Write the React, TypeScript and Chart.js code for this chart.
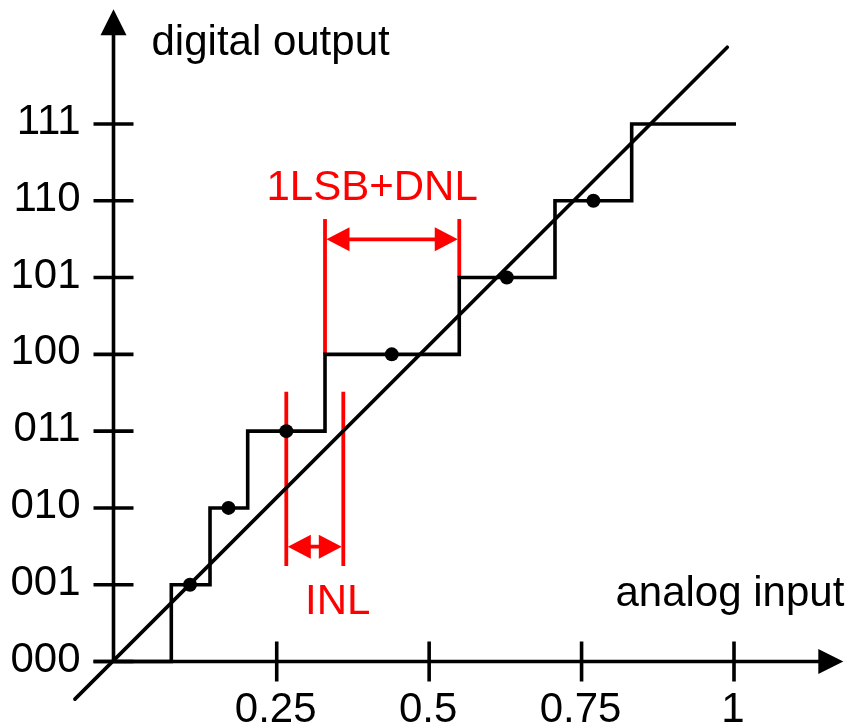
import React, { useEffect, useRef } from 'react';
import { Chart, registerables } from 'chart.js';

Chart.register(...registerables);

// ---- data ----
const codeValues = [0, 1, 2, 3, 4, 5, 6, 7];
const codeLabels = ['000', '001', '010', '011', '100', '101', '110', '111'];
const inputTicks = [0.25, 0.5, 0.75, 1];
const inputTickLabels = ['0.25', '0.5', '0.75', '1'];

// real (non-linear) transfer curve: input where each code begins
const stepInput = [-0.0177, 0.0771, 0.1406, 0.2024, 0.3292, 0.5494, 0.7064, 0.8322, 1.0033];
const stepCode = [0, 1, 2, 3, 4, 5, 6, 7, 7];

// code centres (dots)
const centreInput = [0.1078, 0.1709, 0.2657, 0.4387, 0.6274, 0.7694];
const centreCode = [1, 2, 3, 4, 5, 6];

// ideal straight line
const idealInput = [-0.081, 0.989];
const idealCode = [-0.49, 8.0];

// INL annotation
const inlInput = [0.2657, 0.3592];
const inlCodeRange = [1.244, 3.513];
const inlArrowCode = 1.495;

// DNL annotation
const dnlInput = [0.3292, 0.5494];
const dnlCodeBottom = [4, 5];
const dnlCodeTop = 5.762;
const dnlArrowCode = 5.498;

// axes
const xMin = -0.0177;
const xMax = 1.0;
const yMin = 0;
const yMax = 8;
const xAxisEnd = 1.1793;
const yAxisEnd = 8.493;

const FONT = '42px "Liberation Sans", Arial, sans-serif';
const RED = '#ff0000';
const LW = 3.6;

function arrowHead(ctx: CanvasRenderingContext2D, tx: number, ty: number, dx: number, dy: number, len: number, half: number) {
  const px = -dy;
  const py = dx;
  ctx.beginPath();
  ctx.moveTo(tx, ty);
  ctx.lineTo(tx - dx * len + px * half, ty - dy * len + py * half);
  ctx.lineTo(tx - dx * len - px * half, ty - dy * len - py * half);
  ctx.closePath();
  ctx.fill();
}

function doubleArrow(ctx: CanvasRenderingContext2D, x1: number, x2: number, y: number) {
  ctx.beginPath();
  ctx.moveTo(x1 + 10, y);
  ctx.lineTo(x2 - 10, y);
  ctx.stroke();
  arrowHead(ctx, x1 + 1.5, y, -1, 0, 23, 12);
  arrowHead(ctx, x2 - 1.5, y, 1, 0, 23, 12);
}

const overlay = {
  id: 'overlay',
  beforeDatasetsDraw(chart: any) {
    const ctx: CanvasRenderingContext2D = chart.ctx;
    const xs = chart.scales.x;
    const ys = chart.scales.y;
    const ox = xs.getPixelForValue(xMin);
    const oy = ys.getPixelForValue(0);
    ctx.save();
    ctx.strokeStyle = '#000';
    ctx.fillStyle = '#000';
    ctx.lineWidth = LW;
    ctx.lineCap = 'butt';
    // y axis
    const yTop = ys.getPixelForValue(yAxisEnd);
    ctx.beginPath();
    ctx.moveTo(ox, oy);
    ctx.lineTo(ox, yTop + 20);
    ctx.stroke();
    arrowHead(ctx, ox, yTop, 0, -1, 26, 13);
    // x axis
    const xRight = xs.getPixelForValue(xAxisEnd);
    ctx.beginPath();
    ctx.moveTo(ox - 20, oy);
    ctx.lineTo(xRight - 20, oy);
    ctx.stroke();
    arrowHead(ctx, xRight, oy, 1, 0, 25, 12.5);
    // y ticks
    codeValues.forEach((v) => {
      const y = ys.getPixelForValue(v);
      ctx.beginPath();
      ctx.moveTo(ox - 20, y);
      ctx.lineTo(ox + 20, y);
      ctx.stroke();
    });
    // x ticks
    inputTicks.forEach((v) => {
      const x = xs.getPixelForValue(v);
      ctx.beginPath();
      ctx.moveTo(x, oy - 20);
      ctx.lineTo(x, oy + 20);
      ctx.stroke();
    });

    // red annotations
    ctx.strokeStyle = RED;
    ctx.fillStyle = RED;
    ctx.lineWidth = 3.8;
    inlInput.forEach((v) => {
      const x = xs.getPixelForValue(v);
      ctx.beginPath();
      ctx.moveTo(x, ys.getPixelForValue(inlCodeRange[1]));
      ctx.lineTo(x, ys.getPixelForValue(inlCodeRange[0]));
      ctx.stroke();
    });
    doubleArrow(ctx, xs.getPixelForValue(inlInput[0]), xs.getPixelForValue(inlInput[1]), ys.getPixelForValue(inlArrowCode));
    dnlInput.forEach((v, i) => {
      const x = xs.getPixelForValue(v);
      ctx.beginPath();
      ctx.moveTo(x, ys.getPixelForValue(dnlCodeTop));
      ctx.lineTo(x, ys.getPixelForValue(dnlCodeBottom[i]));
      ctx.stroke();
    });
    doubleArrow(ctx, xs.getPixelForValue(dnlInput[0]), xs.getPixelForValue(dnlInput[1]), ys.getPixelForValue(dnlArrowCode));
    ctx.restore();
  },
  afterDatasetsDraw(chart: any) {
    const ctx: CanvasRenderingContext2D = chart.ctx;
    const xs = chart.scales.x;
    const ys = chart.scales.y;
    const ox = xs.getPixelForValue(xMin);
    const oy = ys.getPixelForValue(0);
    ctx.save();
    ctx.font = FONT;
    ctx.fillStyle = '#000';
    ctx.textBaseline = 'alphabetic';
    // y tick labels
    ctx.textAlign = 'right';
    codeValues.forEach((v, i) => {
      ctx.fillText(codeLabels[i], ox - 33, ys.getPixelForValue(v) + 10);
    });
    // x tick labels
    ctx.textAlign = 'center';
    inputTicks.forEach((v, i) => {
      ctx.fillText(inputTickLabels[i], xs.getPixelForValue(v) - 1, oy + 60);
    });
    // axis titles
    ctx.textAlign = 'left';
    ctx.fillText('digital output', ox + 38, ys.getPixelForValue(yAxisEnd) + 46);
    ctx.textAlign = 'right';
    ctx.fillText('analog input', xs.getPixelForValue(xAxisEnd) + 1, oy - 56);
    // red labels
    ctx.fillStyle = RED;
    ctx.textAlign = 'center';
    const dnlMid = (xs.getPixelForValue(dnlInput[0]) + xs.getPixelForValue(dnlInput[1])) / 2;
    ctx.fillText('1LSB+DNL', dnlMid - 20, ys.getPixelForValue(dnlCodeTop) - 19);
    const inlMid = (xs.getPixelForValue(inlInput[0]) + xs.getPixelForValue(inlInput[1])) / 2;
    ctx.fillText('INL', inlMid + 23, ys.getPixelForValue(inlCodeRange[0]) + 48);
    ctx.restore();
  },
};

export default function App() {
  const ref = useRef<HTMLCanvasElement | null>(null);
  useEffect(() => {
    if (!ref.current) return;
    const chart = new Chart(ref.current, {
      type: 'line',
      data: {
        datasets: [
          {
            type: 'scatter',
            data: centreInput.map((x, i) => ({ x, y: centreCode[i] })),
            pointRadius: 7,
            pointBackgroundColor: '#000',
            pointBorderWidth: 0,
            showLine: false,
            clip: false,
            order: 0,
          } as any,
          {
            data: stepInput.map((x, i) => ({ x, y: stepCode[i] })),
            stepped: 'before',
            borderColor: '#000',
            borderWidth: LW,
            pointRadius: 0,
            borderJoinStyle: 'miter',
            fill: false,
            clip: false,
            order: 1,
          },
          {
            data: idealInput.map((x, i) => ({ x, y: idealCode[i] })),
            borderColor: '#000',
            borderWidth: LW,
            borderCapStyle: 'round',
            pointRadius: 0,
            fill: false,
            clip: false,
            order: 2,
          },
        ],
      },
      options: {
        responsive: false,
        animation: false,
        devicePixelRatio: 1,
        layout: { padding: { left: 113.5, right: 114, top: 47.2, bottom: 63.5 } },
        scales: {
          x: { type: 'linear', min: xMin, max: xMax, display: false },
          y: { type: 'linear', min: yMin, max: yMax, display: false },
        },
        plugins: { legend: { display: false }, tooltip: { enabled: false } },
        events: [],
      },
      plugins: [overlay],
    } as any);
    return () => chart.destroy();
  }, []);
  return (
    <div style={{ position: 'absolute', left: 0, top: 0, width: 848, height: 725, background: '#fff' }}>
      <canvas ref={ref} width={848} height={725} style={{ display: 'block' }} />
    </div>
  );
}
